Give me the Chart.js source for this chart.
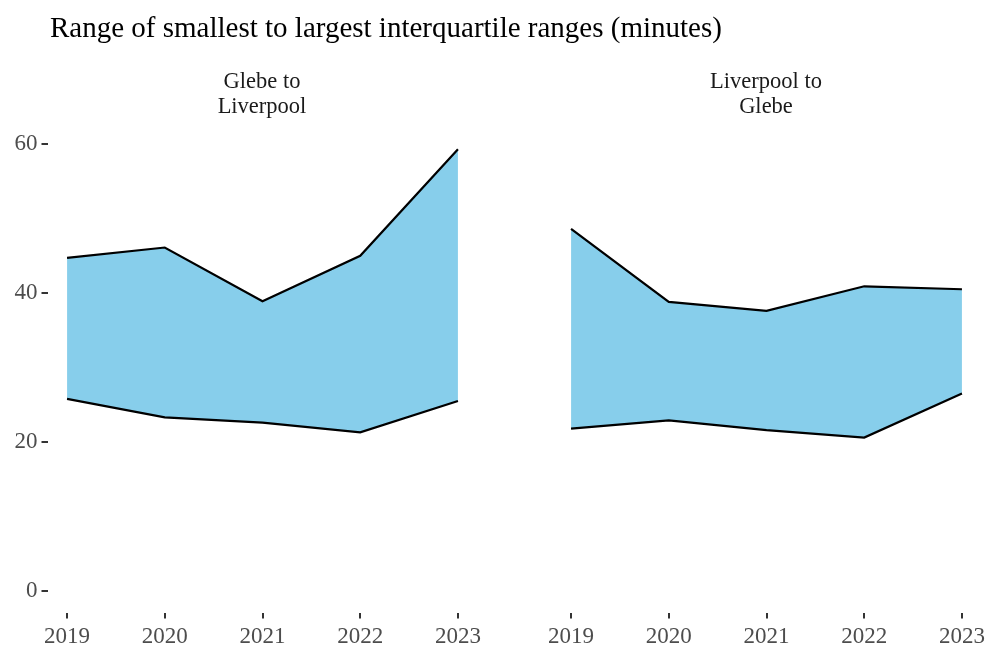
<!DOCTYPE html>
<html>
<head>
<meta charset="utf-8">
<script src="https://cdn.jsdelivr.net/npm/chart.js@4/dist/chart.umd.min.js"></script>
<style>
    body { margin: 0; background: #fff; }
    #wrap { position: relative; width: 991px; height: 655px; font-family: "Liberation Serif", serif; }
    canvas { position: absolute; left: 0; top: 0; }
    .lbl { position: absolute; color: #1a1a1a; white-space: nowrap; }
    #title { left: 50px; top: 13px; font-size: 29px; line-height: 29px; color: #000; }
    .facet { font-size: 22.5px; line-height: 25px; text-align: center; width: 300px; top: 68px; }
</style>
</head>
<body>
<div id="wrap">
    <canvas id="left" width="991" height="655"></canvas>
    <canvas id="right" width="991" height="655"></canvas>
    <div id="title" class="lbl">Range of smallest to largest interquartile ranges (minutes)</div>
    <div class="lbl facet" style="left:112px">Glebe to<br>Liverpool</div>
    <div class="lbl facet" style="left:616px">Liverpool to<br>Glebe</div>
</div>
<script>
var years = [2019, 2020, 2021, 2022, 2023];
var yTicks = [0, 20, 40, 60];

// Glebe to Liverpool
var glebeLow = [25.8, 23.3, 22.6, 21.3, 25.5];
var glebeHigh = [44.7, 46.1, 38.9, 45.0, 59.3];

// Liverpool to Glebe
var livLow = [21.8, 22.9, 21.6, 20.6, 26.5];
var livHigh = [48.6, 38.8, 37.6, 40.9, 40.5];

var tickFont = { family: 'Liberation Serif', size: 23 };

function pts(vals) {
    return years.map(function (y, i) { return { x: y, y: vals[i] }; });
}

function makeChart(id, low, high, showY, padLeft, padRight) {
    var ctx = document.getElementById(id).getContext('2d');
    return new Chart(ctx, {
        type: 'line',
        data: {
            datasets: [{
                data: pts(low),
                borderColor: '#000',
                borderWidth: 2.2,
                pointRadius: 0,
                fill: false
            }, {
                data: pts(high),
                borderColor: '#000',
                borderWidth: 2.2,
                pointRadius: 0,
                backgroundColor: '#87CEEB',
                fill: '-1'
            }]
        },
        options: {
            responsive: false,
            animation: false,
            layout: { padding: { left: padLeft, right: padRight, top: 121.6, bottom: 0 } },
            plugins: { legend: { display: false }, tooltip: { enabled: false } },
            scales: {
                x: {
                    type: 'linear',
                    min: 2018.8,
                    max: 2023.2,
                    afterBuildTicks: function (s) { s.ticks = years.map(function (v) { return { value: v }; }); },
                    afterFit: function (s) {
                        s.height = 41.6;
                        s.paddingLeft = 0;
                        s.paddingRight = 0;
                    },
                    border: { display: false },
                    grid: { drawOnChartArea: false, drawTicks: true, tickLength: 5, color: '#333', lineWidth: 2 },
                    ticks: { font: tickFont, color: '#4d4d4d', padding: 5, maxRotation: 0, callback: function (v) { return String(v); } }
                },
                y: {
                    display: showY,
                    min: -3,
                    max: 63,
                    afterBuildTicks: function (s) { s.ticks = yTicks.map(function (v) { return { value: v }; }); },
                    afterFit: function (s) { s.width = showY ? 47.5 : 0; },
                    border: { display: false },
                    grid: { drawOnChartArea: false, drawTicks: true, tickLength: 6, color: '#333', lineWidth: 2 },
                    ticks: { font: tickFont, color: '#4d4d4d', padding: 4 }
                }
            }
        }
    });
}

makeChart('left', glebeLow, glebeHigh, true, 0, 513.5);
makeChart('right', livLow, livHigh, false, 551.5, 9.5);
</script>
</body>
</html>
